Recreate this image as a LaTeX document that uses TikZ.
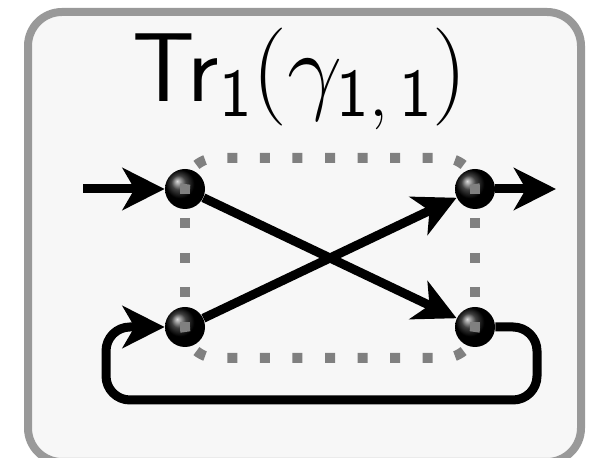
\RequirePackage{fix-cm}
\documentclass[tikz,border=0pt]{standalone}
\usepackage{amsmath}
\usetikzlibrary{arrows.meta,positioning}
\definecolor{boxgray}{HTML}{999999}
\definecolor{boxfill}{HTML}{F7F7F7}
\definecolor{dotgray}{HTML}{808080}

\begin{document}
\begin{tikzpicture}[
    x=0.5pt, y=-0.5pt,
    ball style/.style={circle, shading=ball, ball color=black, minimum size=20pt, inner sep=0pt},
    wire/.style={draw, line width=4.5pt},
    arr/.style={-{Stealth[length=21pt, width=21pt, inset=6pt]}},
    hdots/.style={draw=dotgray, line width=5pt, dash pattern=on 5pt off 11.27pt, dash phase=2.5pt, rounded corners=15.5pt},
    vdots/.style={draw=dotgray, line width=5pt, dash pattern=on 5pt off 12.25pt, dash phase=2.5pt}
]

% FIXED BOUNDING BOX (same size as the reference)
\path[use as bounding box] (0,0) rectangle (594,458);

\draw[boxgray, fill=boxfill, line width=4pt, rounded corners=17pt] (28,12) rectangle (581,462);

\node[anchor=base] (title) at (300,102) {\fontsize{49}{53}\selectfont\textsf{Tr}$_{\mathsf{1}}(\gamma_{\mathsf{1,\,1}})$};

\node[ball style] (TL) at (185,189) {};
\node[ball style] (TR) at (475,189) {};
\node[ball style] (BL) at (185,327) {};
\node[ball style] (BR) at (475,327) {};

\coordinate (in)    at (83,189);
\coordinate (out)   at (556,189);
\coordinate (loopR) at (537,400);
\coordinate (loopL) at (106,400);
\coordinate (topL)  at (185,158);
\coordinate (topR)  at (475,158);
\coordinate (botL)  at (185,358);
\coordinate (botR)  at (475,358);

\draw[wire, arr] (in) -- (TL);
\draw[wire, arr] (TR) -- (out);
\draw[wire, arr] (TL) -- (BR);
\draw[wire, arr] (BL) -- (TR);
\draw[wire, arr, rounded corners=12pt] (BR) -| (loopR) -- (loopL) |- (BL);

\draw[hdots] (TL.center) -- (topL) -- (topR) -- (TR.center);
\draw[hdots] (BL.center) -- (botL) -- (botR) -- (BR.center);
\draw[vdots] (TL.center) -- (BL.center);
\draw[vdots] (TR.center) -- (BR.center);

\end{tikzpicture}
\end{document}
